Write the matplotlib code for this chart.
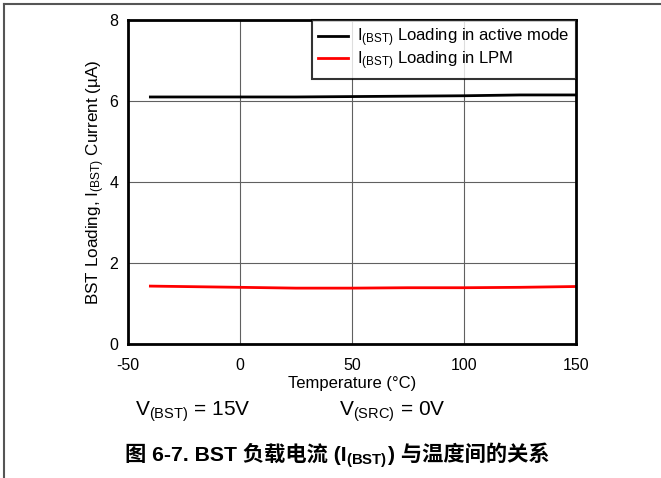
import matplotlib
matplotlib.use("Agg")
import matplotlib.pyplot as plt
from matplotlib.lines import Line2D
from matplotlib.offsetbox import TextArea, HPacker, AnchoredOffsetbox

plt.rcParams['font.family'] = ['Liberation Sans', 'DejaVu Sans']
plt.rcParams['mathtext.fontset'] = 'custom'
plt.rcParams['mathtext.rm'] = 'Liberation Sans'
plt.rcParams['mathtext.it'] = 'Liberation Sans:italic'
plt.rcParams['mathtext.bf'] = 'Liberation Sans:bold'
plt.rcParams['axes.unicode_minus'] = False

temp = [-40, 0, 25, 50, 75, 100, 125, 150]
active = [6.10, 6.10, 6.10, 6.11, 6.12, 6.13, 6.15, 6.15]
lpm = [1.43, 1.40, 1.38, 1.38, 1.39, 1.39, 1.40, 1.42]

xticks = [-50, 0, 50, 100, 150]
yticks = [0, 2, 4, 6, 8]

fig = plt.figure(figsize=(6.61, 4.78), dpi=100)
ax = fig.add_axes([0.1936, 0.2803, 0.6778, 0.6778])

ax.plot(temp, active, color='black', lw=2, label=r'I$_{\mathrm{(BST)}}$ Loading in active mode')
ax.plot(temp, lpm, color='#ff0000', lw=2, label=r'I$_{\mathrm{(BST)}}$ Loading in LPM')

ax.set_xlim(-50, 150)
ax.set_ylim(0, 8)
ax.set_xticks(xticks)
ax.set_yticks(yticks)
ax.grid(True, color='#606060', lw=0.8)
ax.set_axisbelow(True)
for s in ax.spines.values():
    s.set_linewidth(2)
    s.set_color('black')
ax.tick_params(length=0, labelsize=11.5)
ax.tick_params(axis='x', pad=10)
ax.tick_params(axis='y', pad=7)

ax.set_xlabel('Temperature (°C)', fontsize=12, labelpad=2)
ax.set_ylabel(r'BST Loading, I$_{\mathrm{(BST)}}$ Current (µA)', fontsize=12.3, labelpad=1.5)

leg = ax.legend(loc='upper right', fontsize=12, frameon=True, fancybox=False,
                borderaxespad=0, handlelength=1.75, borderpad=0.4, labelspacing=0.0,
                handletextpad=0.55)
leg.get_frame().set_edgecolor('black')
leg.get_frame().set_linewidth(1.5)

fig.text(135/661, 1 - 412/478, r'V$_{\mathrm{(BST)}}$ = 15V', fontsize=15, va='center', ha='left')
fig.text(339/661, 1 - 412/478, r'V$_{\mathrm{(SRC)}}$ = 0V', fontsize=15, va='center', ha='left')

cap_fam = ['Liberation Sans', 'Noto Sans CJK SC']
cap_size = 15.3
parts = [
    TextArea('图 6-7. BST 负载电流 (I', textprops=dict(fontsize=cap_size, fontweight='bold', family=cap_fam)),
    TextArea(r'$_{\mathbf{(BST)}}$', textprops=dict(fontsize=cap_size, fontweight='bold')),
    TextArea(') 与温度间的关系', textprops=dict(fontsize=cap_size, fontweight='bold', family=cap_fam)),
]
box = HPacker(children=parts, align='baseline', pad=0, sep=0)
anch = AnchoredOffsetbox(loc='center', child=box, frameon=False, pad=0, borderpad=0,
                         bbox_to_anchor=(337/661, 1 - 456/478), bbox_transform=fig.transFigure)
fig.add_artist(anch)

fig.add_artist(Line2D([4/661, 4/661], [0, 1 - 4/478], color='#555555', lw=1.5, transform=fig.transFigure))
fig.add_artist(Line2D([4/661, 1], [1 - 4/478, 1 - 4/478], color='#555555', lw=1.5, transform=fig.transFigure))

fig.savefig('out.png', dpi=100)
